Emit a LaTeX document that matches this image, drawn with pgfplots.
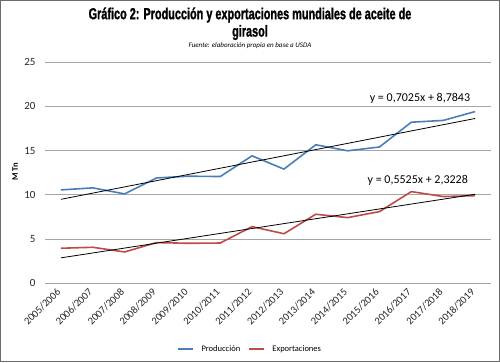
\documentclass[border=0pt]{standalone}
\usepackage{fontspec}
\setmainfont{Carlito}
\newfontfamily\titlefont[FakeStretch=0.68,FakeBold=1.2]{Liberation Sans}
\usepackage{pgfplots}
\pgfplotsset{compat=1.18}
\definecolor{prodblue}{HTML}{4A7EBB}
\definecolor{expred}{HTML}{BE4B48}
\definecolor{gridgray}{HTML}{A6A6A6}
\begin{document}
\begin{tikzpicture}[x=1pt,y=1pt]
\path[use as bounding box] (0,0) rectangle (500,362);
\draw[gray!85!black, line width=1.2pt] (0.6,0.6) rectangle (499.4,361.4);
\node[font=\titlefont\bfseries\fontsize{16}{18}\selectfont, inner sep=0pt] at (250,347) {Gráfico 2: Producción y exportaciones mundiales de aceite de};
\node[font=\titlefont\bfseries\fontsize{16}{18}\selectfont, inner sep=0pt] at (250,329.5) {girasol};
\node[font=\itshape\fontsize{7}{8}\selectfont, inner sep=0pt] at (250,316) {Fuente: elaboración propia en base a USDA};
\node[rotate=90, font=\bfseries\fontsize{8.5}{10}\selectfont, inner sep=0pt] at (15,190) {M Tn};
\begin{axis}[
  at={(45pt,78.7pt)}, anchor=south west,
  scale only axis, width=446pt, height=221.3pt,
  xmin=-0.5, xmax=13.5, ymin=0, ymax=25,
  ytick={0,5,10,15,20,25},
  xtick={0,1,2,3,4,5,6,7,8,9,10,11,12,13},
  xticklabels={2005/2006,2006/2007,2007/2008,2008/2009,2009/2010,2010/2011,2011/2012,2012/2013,2013/2014,2014/2015,2015/2016,2016/2017,2017/2018,2018/2019},
  axis line style={draw=none},
  major tick length=0pt,
  ymajorgrids, grid style={color=gridgray, line width=0.9pt},
  /pgf/number format/assume math mode=true,
  xticklabel style={xshift=-5pt, yshift=-4pt, rotate=45, anchor=north east, font=\fontsize{10.5}{12}\selectfont, inner sep=0pt, text=black!85},
  yticklabel style={font=\fontsize{11}{12}\selectfont, xshift=-6pt, text=black!85},
  legend style={at={(0.46,-0.297)}, anchor=center, draw=none, legend columns=2, font=\fontsize{8.5}{10}\selectfont, column sep=6pt},
  legend image post style={line width=1.2pt},
  legend image code/.code={\draw[#1] (0pt,0pt) -- (15pt,0pt);},
]
\addplot[prodblue, line width=1.6pt] coordinates {
(0,10.55) (1,10.78) (2,10.1) (3,11.9) (4,12.1) (5,12.06) (6,14.4) (7,12.9) (8,15.65) (9,14.97) (10,15.4) (11,18.2) (12,18.4) (13,19.4)};
\addlegendentry{Producción}
\addplot[expred, line width=1.6pt] coordinates {
(0,3.96) (1,4.07) (2,3.54) (3,4.6) (4,4.52) (5,4.55) (6,6.4) (7,5.6) (8,7.8) (9,7.42) (10,8.1) (11,10.36) (12,9.8) (13,9.9)};
\addlegendentry{Exportaciones}
\addplot[black, line width=0.8pt, forget plot] coordinates {(0,9.487) (13,18.619)};
\addplot[black, line width=0.8pt, forget plot] coordinates {(0,2.875) (13,10.058)};
\node[font=\fontsize{12}{14}\selectfont] at (axis cs:11.27,20.9) {y = 0,7025x + 8,7843};
\node[font=\fontsize{12}{14}\selectfont] at (axis cs:11.2,11.67) {y = 0,5525x + 2,3228};
\end{axis}
\end{tikzpicture}
\end{document}
